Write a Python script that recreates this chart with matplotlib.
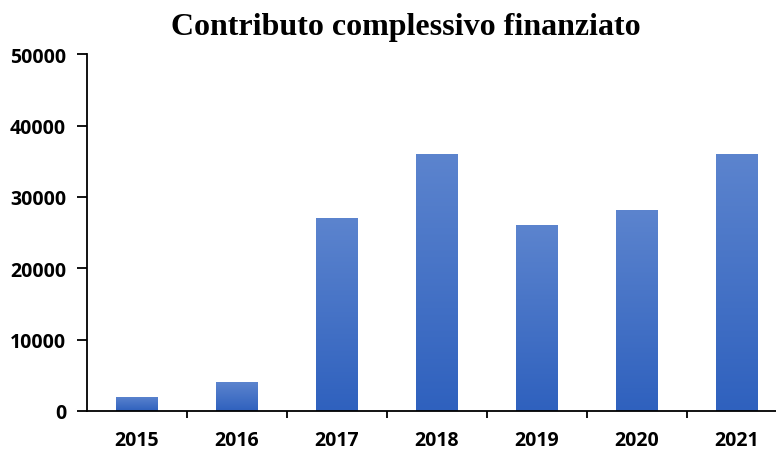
import numpy as np
import matplotlib
matplotlib.use('Agg')
import matplotlib.pyplot as plt
from matplotlib.colors import LinearSegmentedColormap

years = ['2015', '2016', '2017', '2018', '2019', '2020', '2021']
contributo = [2000, 4000, 27000, 36000, 26000, 28200, 36000]

fig = plt.figure(figsize=(7.76, 4.52), dpi=100)
# right edge of the axes runs slightly past the figure, as in the reference
ax = fig.add_axes([0.112, 0.0885, 0.902, 0.7895])

x = np.arange(len(years))
bars = ax.bar(x, contributo, width=0.42, color='none', edgecolor='none', zorder=2)

# vertical gradient inside each bar: lighter on top, darker at the bottom
cmap = LinearSegmentedColormap.from_list('grad', ['#2F61BE', '#5C84CE'])
grad = np.linspace(0, 1, 256).reshape(-1, 1)
for b in bars:
    x0, y0 = b.get_x(), b.get_y()
    w, h = b.get_width(), b.get_height()
    im = ax.imshow(grad, cmap=cmap, origin='lower', aspect='auto',
                   extent=[x0, x0 + w, y0, y0 + h], zorder=2)
    im.set_clip_path(b)

ax.set_xlim(-0.5, len(years) - 0.5)
ax.set_ylim(0, 50000)
ax.set_yticks([0, 10000, 20000, 30000, 40000, 50000])

ax.set_xticks(x)
ax.set_xticklabels(years)
ax.set_xticks(np.arange(0.5, len(years) - 0.5, 1), minor=True)
ax.tick_params(axis='x', which='major', length=0, pad=14)
ax.tick_params(axis='x', which='minor', length=5, width=1.3, direction='out')
ax.tick_params(axis='y', length=7, width=1.3, direction='out', pad=8)

for lab in ax.get_xticklabels() + ax.get_yticklabels():
    lab.set_fontfamily(['Open Sans', 'DejaVu Sans'])
    lab.set_fontweight('bold')
    lab.set_fontsize(14)

for s in ['top', 'right']:
    ax.spines[s].set_visible(False)
for s in ['left', 'bottom']:
    ax.spines[s].set_linewidth(1.3)

fig.text(0.523, 0.94, 'Contributo complessivo finanziato', ha='center', va='center',
         fontfamily='Liberation Serif', fontweight='bold', fontsize=23)

fig.savefig('out.png', dpi=100)
